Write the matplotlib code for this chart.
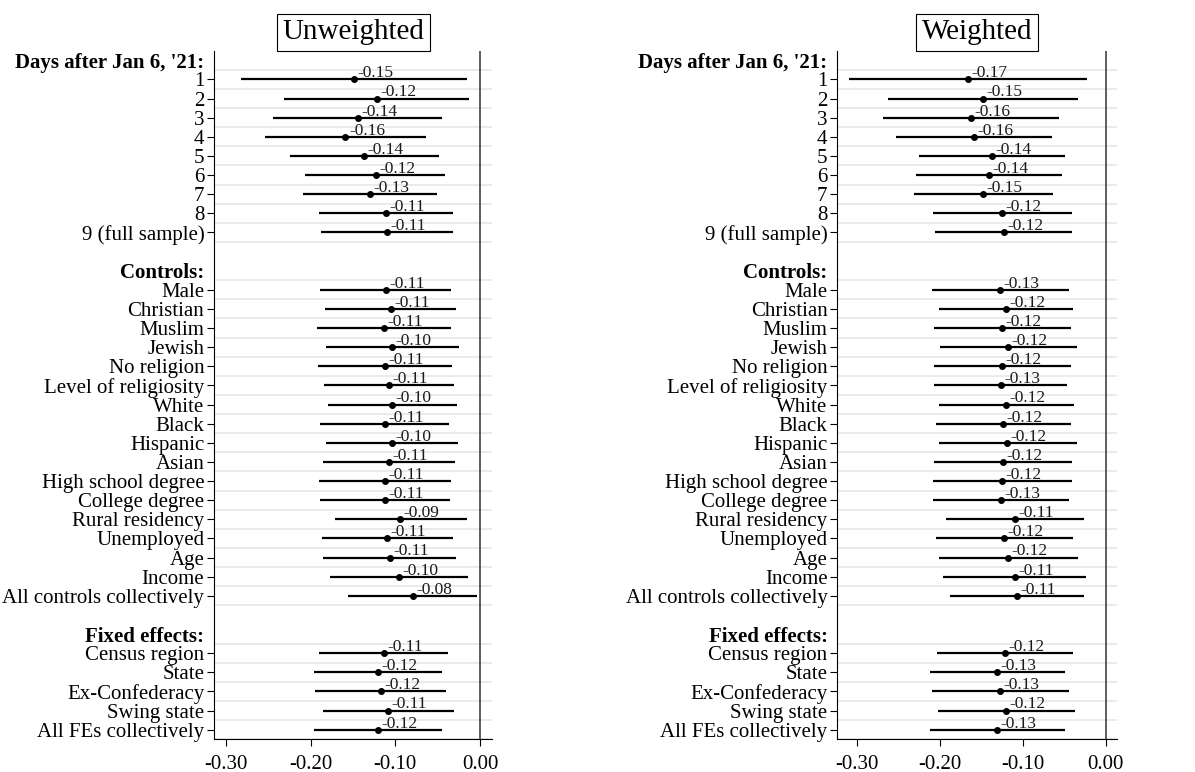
import matplotlib.pyplot as plt
import numpy as np

plt.rcParams['font.family'] = ['Liberation Serif', 'DejaVu Serif']

days = ["1", "2", "3", "4", "5", "6", "7", "8", "9 (full sample)"]
controls = ["Male", "Christian", "Muslim", "Jewish", "No religion",
            "Level of religiosity", "White", "Black", "Hispanic", "Asian",
            "High school degree", "College degree", "Rural residency",
            "Unemployed", "Age", "Income", "All controls collectively"]
fixed = ["Census region", "State", "Ex-Confederacy", "Swing state",
         "All FEs collectively"]

# unweighted: days, controls, fixed effects (in that order)
unw_est = [-0.149, -0.122, -0.1445, -0.159, -0.1366, -0.1232, -0.1295, -0.111, -0.110,
           -0.1114, -0.1055, -0.113, -0.1035, -0.1122, -0.1075, -0.1039, -0.1126, -0.1039,
           -0.1079, -0.1118, -0.1118, -0.0941, -0.1095, -0.1063, -0.0957, -0.0795,
           -0.1134, -0.1209, -0.1169, -0.1083, -0.1209]
unw_lo = [-0.2826, -0.2315, -0.2441, -0.2536, -0.2244, -0.2063, -0.2087, -0.1898, -0.1878,
          -0.1886, -0.1827, -0.1921, -0.1819, -0.1913, -0.1839, -0.1799, -0.1886, -0.1819,
          -0.1854, -0.1898, -0.1886, -0.1716, -0.187, -0.185, -0.1772, -0.1555,
          -0.1898, -0.1964, -0.1945, -0.185, -0.1964]
unw_hi = [-0.0154, -0.0126, -0.0449, -0.0638, -0.048, -0.041, -0.0504, -0.0323, -0.0323,
          -0.0343, -0.0283, -0.0343, -0.0252, -0.0327, -0.0311, -0.0272, -0.0366, -0.026,
          -0.0295, -0.0343, -0.0354, -0.0157, -0.0315, -0.0283, -0.0146, -0.0039,
          -0.0374, -0.0449, -0.0402, -0.0311, -0.0449]

# weighted
wtd_est = [-0.1665, -0.1476, -0.1625, -0.1593, -0.1368, -0.1408, -0.148, -0.1247, -0.123,
           -0.1271, -0.1206, -0.1247, -0.1175, -0.1247, -0.1267, -0.1203, -0.1239, -0.1187,
           -0.1243, -0.1247, -0.1267, -0.1094, -0.1227, -0.1175, -0.1098, -0.1074,
           -0.1215, -0.1311, -0.1271, -0.1199, -0.1307]
wtd_lo = [-0.3093, -0.2626, -0.2686, -0.2533, -0.2248, -0.2285, -0.2316, -0.2087, -0.2059,
          -0.2092, -0.2011, -0.2075, -0.1999, -0.2075, -0.2071, -0.2015, -0.2051, -0.2011,
          -0.2067, -0.2079, -0.2083, -0.1922, -0.2051, -0.2011, -0.1959, -0.1878,
          -0.2031, -0.212, -0.2095, -0.2023, -0.212]
wtd_hi = [-0.0229, -0.033, -0.0563, -0.0648, -0.0491, -0.0527, -0.064, -0.041, -0.0403,
          -0.0447, -0.0398, -0.0415, -0.035, -0.0415, -0.0463, -0.0378, -0.0423, -0.035,
          -0.0407, -0.041, -0.0447, -0.0258, -0.0398, -0.0334, -0.0238, -0.0266,
          -0.0398, -0.0491, -0.0447, -0.037, -0.0495]

xticks = [-0.3, -0.2, -0.1, 0.0]
xticklabels = ["-0.30", "-0.20", "-0.10", "0.00"]

sections = [("Days after Jan 6, '21:", days), ("Controls:", controls),
            ("Fixed effects:", fixed)]

# y layout: header row, items, blank row between sections
tick_pos, tick_lab, is_head, row_pos = [], [], [], []
p = 0
for head, items in sections:
    tick_pos.append(p); tick_lab.append(head); is_head.append(True)
    p += 1
    for it in items:
        tick_pos.append(p); tick_lab.append(it); is_head.append(False)
        row_pos.append(p)
        p += 1
    p += 1
last = row_pos[-1]

fig = plt.figure(figsize=(11.95, 7.72), dpi=100)

panels = [("Unweighted", unw_est, unw_lo, unw_hi, [214, 492.3], (-0.3142, 0.0145)),
          ("Weighted", wtd_est, wtd_lo, wtd_hi, [837.3, 1117], (-0.3238, 0.0136))]

for title, est, lo, hi, px, xl in panels:
    ax = fig.add_axes([px[0] / 1195, 0.0424, (px[1] - px[0]) / 1195, 0.8919])
    ax.set_xlim(*xl)
    ax.set_ylim(last + 0.5, -0.5)

    grid = sorted(set([r - 0.5 for r in row_pos] + [r + 0.5 for r in row_pos]))
    for g in grid:
        ax.axhline(g, color='#e6e6e6', lw=1.2, zorder=0)
    ax.axvline(0, color='#333333', lw=1.1, zorder=1)

    ax.hlines(row_pos, lo, hi, color='black', lw=1.6, zorder=2)
    ax.plot(est, row_pos, 'o', color='black', ms=4, zorder=3)
    for v, r in zip(est, row_pos):
        ax.annotate(f"{v:.2f}", xy=(v, r), xytext=(2.5, 1.5), textcoords='offset points',
                    ha='left', va='baseline', fontsize=12.5, color='#1a1a1a')

    ax.set_yticks(tick_pos)
    ax.set_yticklabels(tick_lab, fontsize=15)
    ax.tick_params(axis='y', length=5, width=0.8, pad=2)
    for t, h in zip(ax.yaxis.get_major_ticks(), is_head):
        if h:
            t.tick1line.set_visible(False)
            t.label1.set_fontweight('bold')
    ax.set_xticks(xticks)
    ax.set_xticklabels(xticklabels, fontsize=15)
    ax.tick_params(axis='x', length=5, width=0.8, pad=6)

    for s in ['top', 'right']:
        ax.spines[s].set_visible(False)
    for s in ['left', 'bottom']:
        ax.spines[s].set_linewidth(0.8)

    ax.annotate(title, xy=(0.5, 1), xycoords='axes fraction', xytext=(0, 4),
                textcoords='offset points', ha='center', va='bottom', fontsize=21,
                bbox=dict(boxstyle='square,pad=0.19', fc='white', ec='black', lw=0.8))

fig.savefig('out.png', dpi=100)
